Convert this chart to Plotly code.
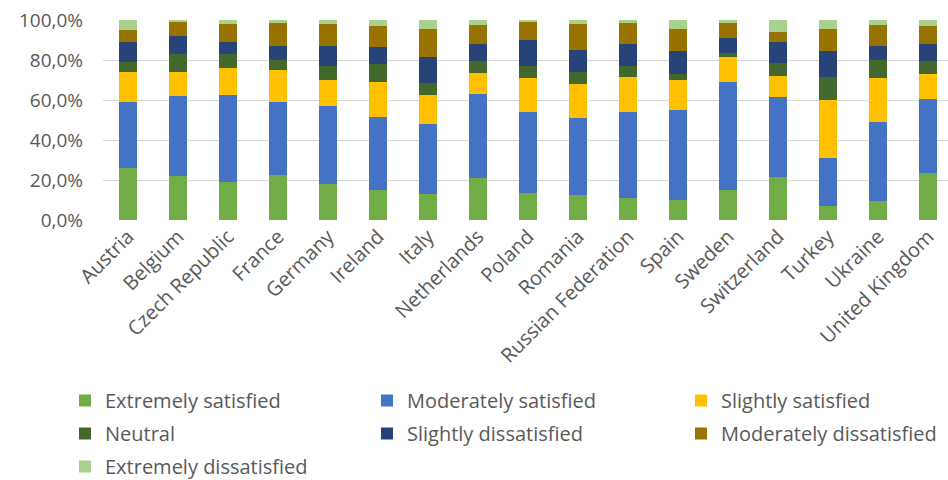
import plotly.graph_objects as go

countries = ["Austria", "Belgium", "Czech Republic", "France", "Germany", "Ireland",
             "Italy", "Netherlands", "Poland", "Romania", "Russian Federation", "Spain",
             "Sweden", "Switzerland", "Turkey", "Ukraine", "United Kingdom"]

extremely_satisfied = [26, 22, 19, 22.5, 18, 15, 13, 21, 13.5, 12.5, 11, 10, 15, 21.5, 7, 9.5, 23.5]
moderately_satisfied = [33, 40, 43.5, 36.5, 39, 36.7, 35, 42, 40.5, 38.5, 43, 45, 54, 40, 24, 39.5, 37]
slightly_satisfied = [15, 12, 13.5, 16, 13, 17.5, 14.5, 10.5, 17, 17, 17.5, 15, 12.5, 10.5, 29, 22, 12.5]
neutral = [5, 9, 7, 5, 7, 8.6, 6, 6, 6, 6, 5.5, 3, 2, 6.5, 11.5, 9, 6.5]
slightly_dissatisfied = [10, 9, 6, 7, 10, 8.9, 13, 8.5, 13, 11, 11, 11.5, 7.5, 10.5, 13, 7, 8.5]
moderately_dissatisfied = [6, 7, 9, 11.5, 11, 10.5, 14, 9.5, 9, 13, 10.5, 11, 7.5, 5, 11, 10.5, 9]
extremely_dissatisfied = [5, 1, 2, 1.5, 2, 2.8, 4.5, 2.5, 1, 2, 1.5, 4.5, 1.5, 6, 4.5, 2.5, 3]

y_tick_values = [0, 20, 40, 60, 80, 100]
y_tick_labels = ["0,0%", "20,0%", "40,0%", "60,0%", "80,0%", "100,0%"]

# (name, values, colour, legend column)
series = [
    ("Extremely satisfied", extremely_satisfied, "#70AD47", "legend"),
    ("Moderately satisfied", moderately_satisfied, "#4472C4", "legend2"),
    ("Slightly satisfied", slightly_satisfied, "#FFC000", "legend3"),
    ("Neutral", neutral, "#43682B", "legend"),
    ("Slightly dissatisfied", slightly_dissatisfied, "#264478", "legend2"),
    ("Moderately dissatisfied", moderately_dissatisfied, "#997300", "legend3"),
    ("Extremely dissatisfied", extremely_dissatisfied, "#A9D18E", "legend"),
]

FONT = "Open Sans"
GREY = "#595959"

fig = go.Figure()
for name, vals, color, leg in series:
    fig.add_trace(go.Bar(
        x=countries, y=vals, name=name, marker_color=color,
        marker_line_width=0, legend=leg, legendgroup=name,
    ))

# one vertical legend per column, rows separated by the group gap
legend_common = dict(
    orientation="v", xref="container", yref="container",
    y=1 - 381 / 480, xanchor="left", yanchor="top",
    traceorder="grouped", tracegroupgap=4,
    font=dict(family=FONT, size=20, color=GREY),
    bgcolor="rgba(0,0,0,0)", itemwidth=30,
)

fig.update_layout(
    width=948, height=480,
    margin=dict(l=103, r=0, t=20, b=260, autoexpand=False),
    plot_bgcolor="white", paper_bgcolor="white",
    barmode="stack", bargap=0.64,
    font=dict(family=FONT, size=20, color=GREY),
    legend=dict(legend_common, x=65 / 948),
    legend2=dict(legend_common, x=367 / 948),
    legend3=dict(legend_common, x=681 / 948),
    xaxis=dict(
        range=[-0.5, 16.4], tickangle=-45, showgrid=False,
        tickfont=dict(family=FONT, size=20, color=GREY),
        showline=False, ticks="", automargin=False,
    ),
    yaxis=dict(
        range=[0, 100], tickvals=y_tick_values, ticktext=y_tick_labels,
        gridcolor="#D9D9D9", gridwidth=1, zeroline=False,
        tickfont=dict(family=FONT, size=19, color=GREY),
        ticklabelstandoff=19, automargin=False,
    ),
)

fig.write_html("out.html")
